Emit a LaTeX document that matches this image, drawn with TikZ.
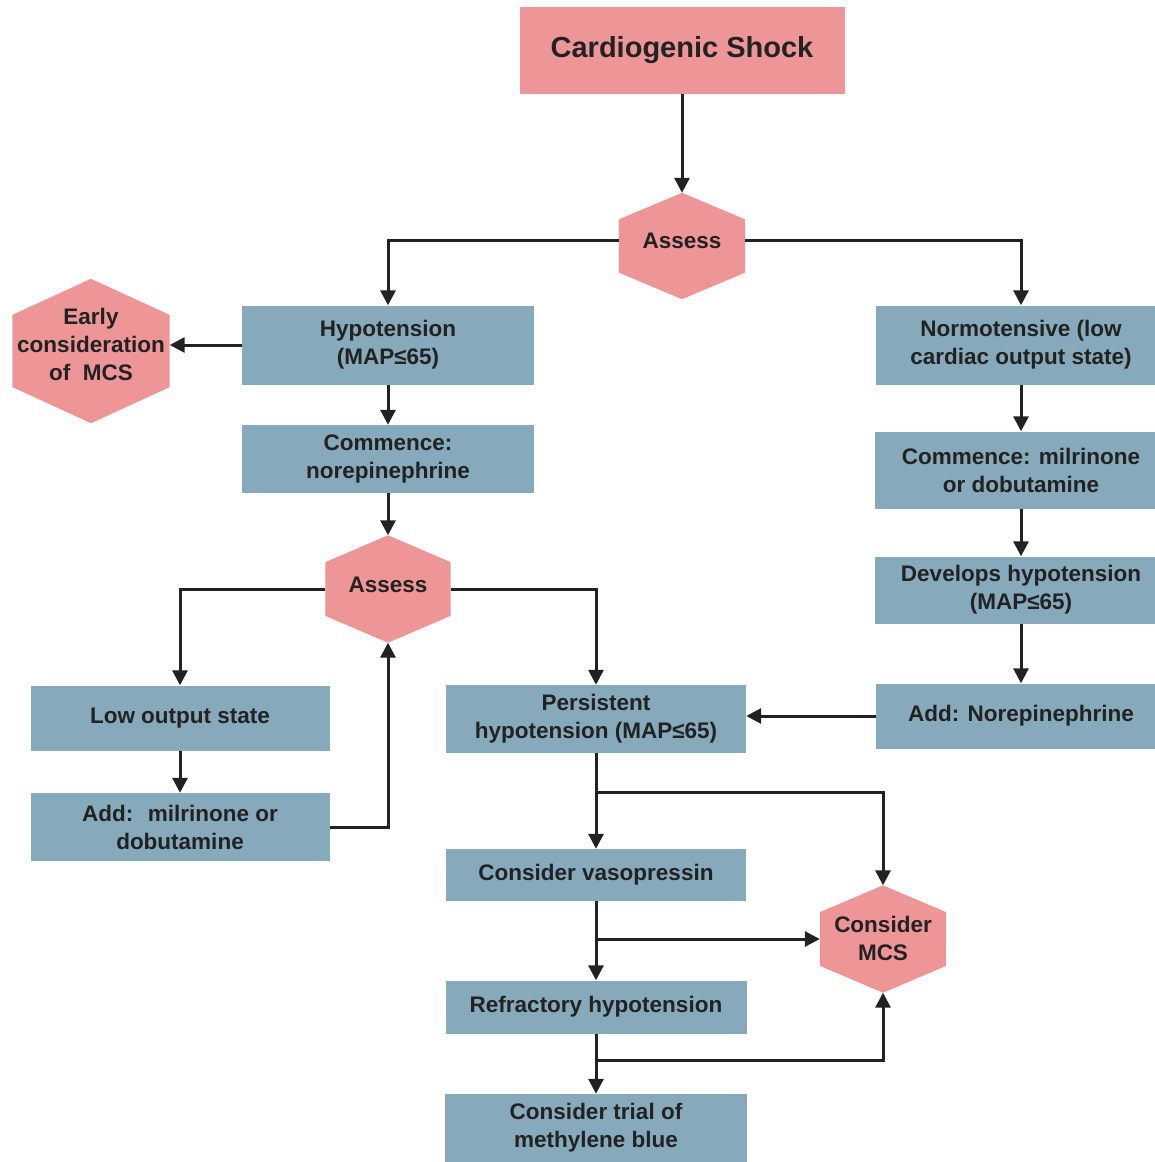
\documentclass[tikz,border=0pt]{standalone}
\usepackage{fontspec}
\setmainfont{Liberation Sans}
\usetikzlibrary{arrows.meta,calc,backgrounds}
\definecolor{pinkc}{HTML}{EE9597}
\definecolor{bluec}{HTML}{86AABB}
\definecolor{ink}{HTML}{222222}
\begin{document}
\begin{tikzpicture}[x=1pt,y={(0pt,-1pt)},
  font=\fontsize{22.5}{28}\selectfont\bfseries,
  box/.style={fill=bluec, inner sep=0pt, align=center, text=ink},
  hexn/.style={inner sep=0pt, align=center, text=ink},
  arr/.style={draw=ink, line width=3pt, -{Triangle[length=15pt,width=15pt]}}]
\useasboundingbox (0,0) rectangle (1155,1162);
% title
\node[fill=pinkc, minimum width=325pt, minimum height=87pt, inner sep=0pt, text=ink,
      font=\fontsize{29}{34}\selectfont\bfseries] (cs) at (682,50) {Cardiogenic Shock};
% hexagon nodes (shape frames) and their texts
\node[hexn, minimum width=126pt, minimum height=106pt] (a1) at (682,246) {};
\node[hexn] (a1t) at ([yshift=5pt]a1.center) {Assess};
\node[hexn, minimum width=157pt, minimum height=144pt] (early) at (91,351) {};
\node[hexn] (earlyt) at ([yshift=7pt]early.center) {Early\\consideration\\of~ MCS};
\node[hexn, minimum width=125pt, minimum height=107pt] (a2) at (388,589) {};
\node[hexn] (a2t) at ([yshift=4pt]a2.center) {Assess};
\node[hexn, minimum width=126pt, minimum height=107pt] (mcs) at (883,939) {};
\node[hexn] (mcst) at ([yshift=1pt]mcs.center) {Consider\\MCS};
% boxes
\node[box, minimum width=292pt, minimum height=79pt] (hyp) at (388,345) {Hypotension\\(MAP≤65)};
\node[box, minimum width=292pt, minimum height=68pt] (cnor) at (388,459) {Commence:\\norepinephrine};
\node[box, minimum width=299pt, minimum height=65pt] (low) at (180,718) {Low output state};
\node[box, minimum width=299pt, minimum height=68pt] (addm) at (180,827) {Add:~ milrinone or\\dobutamine};
\node[box, minimum width=300pt, minimum height=68pt] (pers) at (596,719) {Persistent\\hypotension (MAP≤65)};
\node[box, minimum width=290pt, minimum height=79pt] (norm) at (1021,345) {Normotensive (low\\cardiac output state)};
\node[box, minimum width=292pt, minimum height=77pt] (cmil) at (1021,470) {Commence: milrinone\\or dobutamine};
\node[box, minimum width=292pt, minimum height=67pt] (dev) at (1021,590) {Develops hypotension\\(MAP≤65)};
\node[box, minimum width=290pt, minimum height=65pt] (addn) at (1021,716) {Add: Norepinephrine};
\node[box, minimum width=300pt, minimum height=52pt] (vaso) at (596,875) {Consider vasopressin};
\node[box, minimum width=301pt, minimum height=53pt] (refr) at (596,1007) {Refractory hypotension};
\node[box, minimum width=302pt, minimum height=68pt] (meth) at (596,1128) {Consider trial of\\methylene blue};
% junctions
\coordinate (j1) at (596,792);
\coordinate (j2) at (596,939);
\coordinate (j3) at (596,1060);
% background and hexagon fills
\begin{scope}[on background layer]
\fill[white] (0,0) rectangle (1155,1162);
\foreach \n in {a1,early,a2,mcs}
  \fill[pinkc] (\n.north) -- ($(\n.north east)!0.25!(\n.south east)$) -- ($(\n.north east)!0.75!(\n.south east)$)
     -- (\n.south) -- ($(\n.north west)!0.75!(\n.south west)$) -- ($(\n.north west)!0.25!(\n.south west)$) -- cycle;
\end{scope}
% connectors
\draw[arr] (cs.south) -- (a1.north);
\draw[arr] ([yshift=6pt]a1.west) -| (hyp.north);
\draw[arr] ([yshift=6pt]a1.east) -| (norm.north);
\draw[arr] (hyp.west) -- (hyp.west -| early.east);
\draw[arr] (hyp.south) -- (cnor.north);
\draw[arr] (cnor.south) -- (a2.north);
\draw[arr] (a2.west) -| (low.north);
\draw[arr] (a2.east) -| (pers.north);
\draw[arr] (low.south) -- (addm.north);
\draw[arr] (addm.east) -| (a2.south);
\draw[arr] (norm.south) -- (cmil.north);
\draw[arr] (cmil.south) -- (dev.north);
\draw[arr] (dev.south) -- (addn.north);
\draw[arr] (addn.west) -- (addn.west -| pers.east);
\draw[arr] (pers.south) -- (vaso.north);
\draw[arr] (j1) -| (mcs.north);
\draw[arr] (vaso.south) -- (refr.north);
\draw[arr] (j2) -- (mcs.west);
\draw[arr] (refr.south) -- (meth.north);
\draw[arr] (j3) -| (mcs.south);
\end{tikzpicture}
\end{document}
